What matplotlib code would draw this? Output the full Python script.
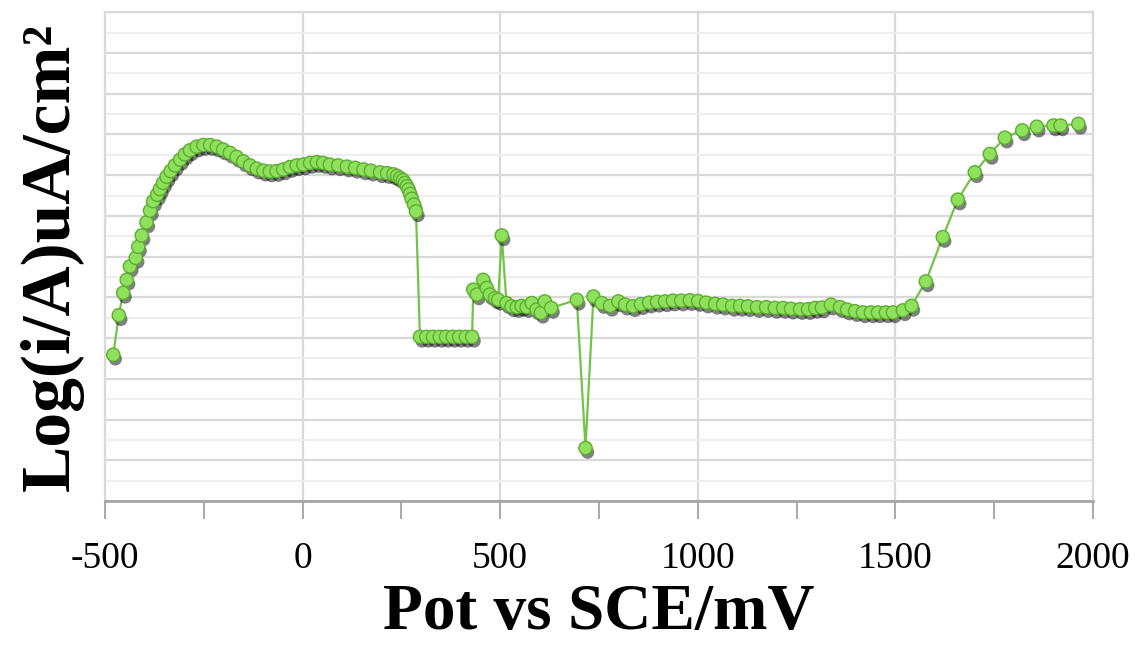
import matplotlib.pyplot as plt
import matplotlib.patheffects as pe
from matplotlib.ticker import MultipleLocator, NullFormatter

plt.rcParams['axes.unicode_minus'] = False

# potential (mV) and log current (arbitrary grid units, no y labels in source)
pot = [-479, -465, -454, -445, -437, -422, -416, -407, -395, -386, -378, -368,
       -361, -353, -344, -334, -323, -310, -298, -285, -268, -251, -234, -217,
       -201, -184, -167, -150, -133, -116, -99, -83, -66, -49, -32, -15, 2, 19,
       36, 52, 69, 90, 112, 133, 154, 173, 196, 214, 230, 239, 247, 254, 259,
       264, 268, 272, 276, 282, 287,
       297, 313, 330, 347, 363, 380, 396, 413, 429,
       432, 441, 457, 466, 474, 487, 495, 504, 516, 529, 542, 554, 567, 580,
       592, 603, 613, 629, 694, 716, 736, 757, 778, 799,
       816, 836, 856, 877, 897, 917, 937, 958, 980, 1001, 1021, 1044, 1064,
       1087, 1107, 1127, 1150, 1173, 1195, 1216, 1236, 1259, 1279, 1297, 1314,
       1337, 1360, 1378, 1398, 1418, 1438, 1456, 1476, 1494, 1519, 1541,
       1577, 1620, 1658, 1701, 1739, 1777, 1821, 1858, 1900, 1918, 1963]
logi = [3.59, 4.56, 5.11, 5.43, 5.76, 5.97, 6.24, 6.52, 6.84, 7.13, 7.36, 7.52,
        7.66, 7.81, 7.96, 8.10, 8.24, 8.38, 8.51, 8.61, 8.70, 8.74, 8.74, 8.70,
        8.63, 8.55, 8.45, 8.34, 8.24, 8.16, 8.11, 8.09, 8.10, 8.14, 8.20, 8.24, 8.26, 8.30,
        8.32, 8.30, 8.26, 8.24, 8.21, 8.18, 8.14, 8.11, 8.07, 8.05, 8.02, 7.98, 7.93, 7.88, 7.81,
        7.73, 7.65, 7.54, 7.42, 7.28, 7.11,
        4.03, 4.03, 4.03, 4.03, 4.03, 4.03, 4.03, 4.03, 4.03,
        5.19, 5.07, 5.43, 5.23, 5.07, 4.98, 4.94, 6.52, 4.86, 4.78, 4.76, 4.79, 4.76, 4.86,
        4.70, 4.62, 4.90, 4.74, 4.94, 1.30, 5.02, 4.86, 4.79, 4.90,
        4.82, 4.78, 4.83, 4.87, 4.89, 4.90, 4.92, 4.92, 4.93, 4.91, 4.87, 4.84, 4.82,
        4.79, 4.79, 4.78, 4.76, 4.76, 4.74, 4.74, 4.72, 4.71, 4.71, 4.74, 4.75,
        4.82, 4.76, 4.70, 4.66, 4.63, 4.63, 4.63, 4.63, 4.63, 4.68, 4.79,
        5.39, 6.48, 7.40, 8.07, 8.52, 8.92, 9.10, 9.19, 9.22, 9.22, 9.26]

fig = plt.figure(figsize=(11.36, 6.46), dpi=100)
ax = fig.add_axes([0.0924, 0.2245, 0.8697, 0.7565])

ax.plot(pot, logi, color='#72c447', lw=1.6, zorder=3)
ax.plot(pot, logi, ls='none', marker='o', ms=9.5, mfc='#8fe05c', mec='#5cae30', mew=1.0,
        zorder=4,
        path_effects=[pe.SimplePatchShadow(offset=(1.5, -3), shadow_rgbFace='black', alpha=0.5),
                      pe.Normal()])

ax.set_xlim(-500, 2000)
ax.set_ylim(0, 12)
ax.xaxis.set_major_locator(MultipleLocator(500))
ax.xaxis.set_minor_locator(MultipleLocator(250))
ax.yaxis.set_major_locator(MultipleLocator(1))
ax.yaxis.set_minor_locator(MultipleLocator(0.5))
ax.yaxis.set_major_formatter(NullFormatter())
ax.tick_params(axis='y', which='both', length=0)
ax.tick_params(axis='x', which='both', length=13, width=1.2, color='#999999',
               direction='out', pad=16, labelsize=27)
ax.grid(which='major', axis='both', color='#d9d9d9', lw=1.6)
ax.grid(which='minor', axis='y', color='#eeeeee', lw=1.4)
ax.set_axisbelow(True)

for s in ['left', 'right', 'top']:
    ax.spines[s].set_color('#d9d9d9')
    ax.spines[s].set_linewidth(1.6)
ax.spines['bottom'].set_color('#a6a6a6')
ax.spines['bottom'].set_linewidth(2)

for lab in ax.get_xticklabels():
    lab.set_family('Liberation Serif')

ax.set_xlabel('Pot vs SCE/mV', family='Liberation Serif', fontweight='bold', fontsize=47, labelpad=5)
ax.set_ylabel('Log(i/A)uA/cm²', family='Liberation Serif', fontweight='bold', fontsize=50, labelpad=12)

plt.savefig('out.png', dpi=100)
